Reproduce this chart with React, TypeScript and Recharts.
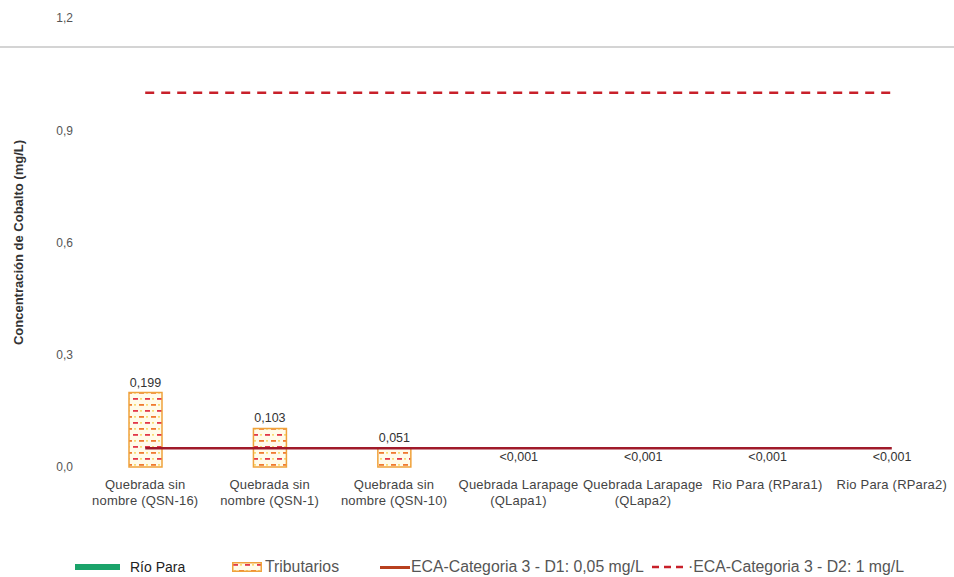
import { Bar, ComposedChart, LabelList, Line, Rectangle, XAxis, YAxis } from "recharts"

const categories = [
    ["Quebrada sin", "nombre (QSN-16)"],
    ["Quebrada sin", "nombre (QSN-1)"],
    ["Quebrada sin", "nombre (QSN-10)"],
    ["Quebrada Larapage", "(QLapa1)"],
    ["Quebrada Larapage", "(QLapa2)"],
    ["Rio Para (RPara1)"],
    ["Rio Para (RPara2)"],
]
const tributarios = [0.199, 0.103, 0.051, 0.0005, 0.0005, null, null]
const rioPara = [null, null, null, null, null, 0.0005, 0.0005]
const valueLabels = ["0,199", "0,103", "0,051", "<0,001", "<0,001", "<0,001", "<0,001"]
const ecaD1 = [0.05, 0.05, 0.05, 0.05, 0.05, 0.05, 0.05]
const ecaD2 = [1, 1, 1, 1, 1, 1, 1]
const yTicks = [0, 0.3, 0.6, 0.9, 1.2]

const data = categories.map((c, i) => ({
    name: c.join(" "),
    tributarios: tributarios[i],
    rioPara: rioPara[i],
    labT: tributarios[i] != null ? valueLabels[i] : null,
    labR: rioPara[i] != null ? valueLabels[i] : null,
    d1: ecaD1[i],
    d2: ecaD2[i],
}))

const FONT = "'Liberation Sans', Arial, sans-serif"

// no scrollbars: the page is exactly the chart
document.body.style.margin = "0"
document.body.style.overflow = "hidden"

function CategoryTick(props: any) {
    const { x, y, payload } = props
    const lines = categories[payload.index] || []
    return (
        <text x={x} y={y} textAnchor="middle" fill="#444" fontSize={13} fontFamily={FONT} letterSpacing={0.2}>
            {lines.map((l, i) => (
                <tspan key={i} x={x} dy={i === 0 ? 14 : 16}>{l}</tspan>
            ))}
        </text>
    )
}

function ValueLabel(props: any) {
    const { x, y, width, value } = props
    if (value == null) return null
    return (
        <text x={x + width / 2} y={y - 6} textAnchor="middle" fill="#333" fontSize={12.5} fontFamily={FONT}>
            {value}
        </text>
    )
}

function AxisTitle(props: any) {
    const { viewBox } = props
    const cy = viewBox.y + viewBox.height / 2
    return (
        <text x={18} y={cy} transform={`rotate(-90, 18, ${cy})`} textAnchor="middle" dominantBaseline="central"
            fill="#333" fontSize={13} fontWeight="bold" fontFamily={FONT}>
            Concentración de Cobalto (mg/L)
        </text>
    )
}

// tiny "<0,001" bars stay invisible, as in the source chart
const barShape = (props: any) => {
    if (props.height < 1) return <g />
    return <Rectangle {...props} />
}

export default function App() {
    return (
        <div style={{ position: "relative", width: 954, height: 577, background: "#fff", fontFamily: FONT }}>
            <div style={{ position: "absolute", left: 0, top: 46, width: 954, height: 1.5, background: "#d4d4d4" }} />
            <ComposedChart width={954} height={577} data={data} margin={{ top: 18, right: 0, left: 0, bottom: 50 }}>
                <defs>
                    <pattern id="tribPat" width="12" height="12" patternUnits="userSpaceOnUse">
                        <rect width="12" height="12" fill="#fffbea" />
                        <rect x="1" y="2" width="5" height="1.8" fill="#e2384a" />
                        <rect x="8" y="2.3" width="2" height="1.2" fill="#f5d040" />
                        <rect x="7" y="8" width="5" height="1.8" fill="#f07a30" />
                        <rect x="2" y="8.3" width="2" height="1.2" fill="#f5d040" />
                    </pattern>
                </defs>
                <XAxis dataKey="name" axisLine={false} tickLine={false} interval={0} height={60} tick={<CategoryTick />} />
                <YAxis domain={[0, 1.2]} ticks={yTicks} width={83} axisLine={false} tickLine={false} tickSize={0} tickMargin={10}
                    tickFormatter={(v: number) => v.toFixed(1).replace(".", ",")}
                    tick={{ fill: "#555", fontSize: 12, fontFamily: FONT }}
                    label={<AxisTitle />} />
                <Bar dataKey="tributarios" stackId="a" barSize={33} fill="url(#tribPat)" stroke="#f0a23c" strokeWidth={1.5}
                    shape={barShape} isAnimationActive={false}>
                    <LabelList dataKey="labT" content={<ValueLabel />} />
                </Bar>
                <Bar dataKey="rioPara" stackId="a" barSize={33} fill="#1aa36a" shape={barShape} isAnimationActive={false}>
                    <LabelList dataKey="labR" content={<ValueLabel />} />
                </Bar>
                <Line dataKey="d1" stroke="#a01a2a" strokeWidth={2.5} dot={false} isAnimationActive={false} />
                <Line dataKey="d2" stroke="#c8202a" strokeWidth={2.5} strokeDasharray="9 7" dot={false} isAnimationActive={false} />
            </ComposedChart>
            <div style={{ position: "absolute", top: 558, left: 0, width: 954, height: 18, fontSize: 15.8, lineHeight: "18px", color: "#555" }}>
                <div style={{ position: "absolute", left: 75, top: 6, width: 45, height: 6, background: "#1aa36a" }} />
                <div style={{ position: "absolute", left: 130, top: 0, fontSize: 14, color: "#222" }}>Río Para</div>
                <svg style={{ position: "absolute", left: 232, top: 4 }} width={30} height={10}>
                    <rect x={0.75} y={0.75} width={28.5} height={8.5} fill="url(#tribPat)" stroke="#f0a23c" strokeWidth={1.5} />
                </svg>
                <div style={{ position: "absolute", left: 265, top: 0 }}>Tributarios</div>
                <div style={{ position: "absolute", left: 380, top: 8, width: 30, height: 2.5, background: "#b8401f" }} />
                <div style={{ position: "absolute", left: 411, top: 0 }}>ECA-Categoria 3 - D1: 0,05 mg/L</div>
                <svg style={{ position: "absolute", left: 652, top: 4 }} width={34} height={10}>
                    <line x1={0} y1={5} x2={34} y2={5} stroke="#c8202a" strokeWidth={2.5} strokeDasharray="7 5" />
                </svg>
                <div style={{ position: "absolute", left: 688, top: 0 }}>·ECA-Categoria 3 - D2: 1 mg/L</div>
            </div>
        </div>
    )
}
